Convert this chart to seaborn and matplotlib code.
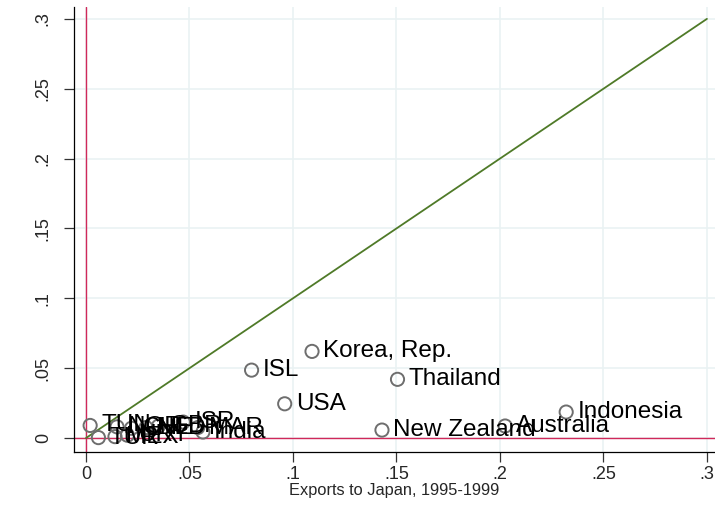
import matplotlib
matplotlib.use("Agg")
import matplotlib.pyplot as plt
import seaborn as sns
import pandas as pd

# Export shares by destination: Japan (x) vs. comparison (y)
countries = ["Korea, Rep.", "ISL", "Thailand", "USA", "Indonesia", "Australia",
             "New Zealand", "India", "ISR", "MAR", "GBR", "NLD", "CHE", "NOR",
             "TUN", "TUR", "MEX", "URY"]
exports_japan = [0.1092, 0.0800, 0.1505, 0.0960, 0.2320, 0.2025,
                 0.1430, 0.0565, 0.0470, 0.0540, 0.0350, 0.0290, 0.0220, 0.0150,
                 0.0020, 0.0060, 0.0140, 0.0200]
exports_other = [0.0620, 0.0486, 0.0420, 0.0245, 0.0186, 0.0086,
                 0.0057, 0.0043, 0.0114, 0.0075, 0.0085, 0.0075, 0.0070, 0.0080,
                 0.0090, 0.0003, 0.0010, 0.0020]

ticks = [0, 0.05, 0.1, 0.15, 0.2, 0.25, 0.3]
tick_labels = ["0", ".05", ".1", ".15", ".2", ".25", ".3"]
diag = [0, 0.3]

df = pd.DataFrame({"country": countries, "x": exports_japan, "y": exports_other})

sns.set_style("white")
plt.rcParams["font.family"] = ["Liberation Sans", "DejaVu Sans"]

fig = plt.figure(figsize=(7.15, 5.05), dpi=100)
ax = fig.add_axes([74 / 715, 53 / 505, 641 / 715, 445 / 505])

for t in ticks:
    ax.axvline(t, color="#eaf2f3", lw=1.2, zorder=0)
    ax.axhline(t, color="#eaf2f3", lw=1.2, zorder=0)

ax.axvline(0, color="#d0285a", lw=1.0, zorder=1)
ax.axhline(0, color="#d0285a", lw=1.0, zorder=1)

sns.lineplot(x=diag, y=diag, ax=ax, color="#4f7a28", lw=1.3, zorder=2)

sns.scatterplot(data=df, x="x", y="y", ax=ax, s=90, facecolor="none",
                edgecolor="#6e6e6e", linewidth=1.4, zorder=3)

for _, r in df.iterrows():
    ax.annotate(r["country"], (r["x"], r["y"]), xytext=(8, 0),
                textcoords="offset points", va="center", ha="left",
                fontsize=17.5, color="black", zorder=4)

ax.set_xlim(-0.0058, 0.3039)
ax.set_ylim(-0.010, 0.3085)
ax.set_xticks(ticks)
ax.set_xticklabels(tick_labels, fontsize=13)
ax.set_yticks(ticks)
ax.set_yticklabels(tick_labels, fontsize=13, rotation=90, va="center")
ax.tick_params(axis="both", direction="out", length=7, width=0.9, color="#333333",
               bottom=True, left=True, pad=3)
ax.tick_params(axis="y", pad=9)
ax.set_xlabel("Exports to Japan, 1995-1999", fontsize=11.8, labelpad=0)
ax.set_ylabel("")

for side in ["top", "right"]:
    ax.spines[side].set_visible(False)
for side in ["left", "bottom"]:
    ax.spines[side].set_color("black")
    ax.spines[side].set_linewidth(0.9)

fig.savefig("out.png", dpi=100)
